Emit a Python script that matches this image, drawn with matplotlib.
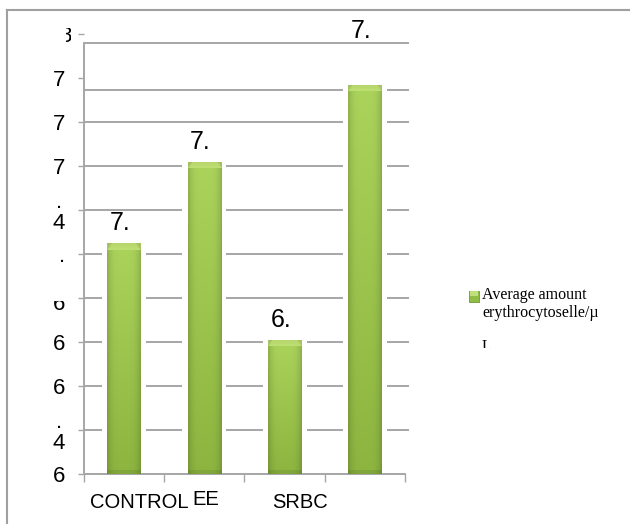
import numpy as np
import matplotlib
matplotlib.use("Agg")
import matplotlib.pyplot as plt
from matplotlib import font_manager
from matplotlib.transforms import Bbox, offset_copy
from matplotlib.lines import Line2D
from matplotlib.patches import Rectangle

# ---- data -------------------------------------------------------------
categories = ["CONTROL", "EE", "SRBC", ""]
values = [7.05, 7.42, 6.61, 7.77]
y_ticks = [6.0, 6.2, 6.4, 6.6, 6.8, 7.0, 7.2, 7.4, 7.6, 7.8, 8.0]
y_tick_labels = ["6", ".\n4", "6", "6", "", ".", ".\n4", "7", "7", "7", ""]
legend_label = "Average amount\nerythrocytoselle/\u00b5"
legend_tail = "L"

# ---- fonts ------------------------------------------------------------
installed = {f.name for f in font_manager.fontManager.ttflist}
SANS = "Liberation Sans Narrow" if "Liberation Sans Narrow" in installed else "Liberation Sans"
SERIF = "Liberation Serif"

W, H, DPI = 630, 524, 100
fig = plt.figure(figsize=(W / DPI, H / DPI), dpi=DPI)
fig.patch.set_facecolor("white")

ax = fig.add_axes([84 / W, 50 / H, 321 / W, 440 / H])
ymin, ymax = 6.0, 8.0
ax.set_xlim(0, 4)
ax.set_ylim(ymin, ymax)
ax.set_facecolor("none")

GRID = "#a6a6a6"

# frame of the whole chart area
fig.add_artist(Line2D([7 / W, 1.0], [1 - 10 / H, 1 - 10 / H], color="#a0a0a0", lw=1.5,
                      transform=fig.transFigure))
fig.add_artist(Line2D([7 / W, 7 / W], [0, 1 - 10 / H], color="#a0a0a0", lw=1.5,
                      transform=fig.transFigure))

# spines
for s in ("top", "right"):
    ax.spines[s].set_visible(False)
ax.spines["left"].set_color(GRID)
ax.spines["bottom"].set_color(GRID)
ax.spines["left"].set_linewidth(1.4)
ax.spines["bottom"].set_linewidth(1.4)
top_line = 7.96
ax.spines["left"].set_bounds(ymin, top_line)

# horizontal gridlines
grid_levels = [6.2, 6.4, 6.6, 6.8, 7.0, 7.2, 7.4, 7.6, 7.745, top_line]
ax.hlines(grid_levels, 0, 4.05, colors=GRID, lw=1.4, zorder=0.5, clip_on=False)

# y ticks
ax.set_yticks(y_ticks)
ax.set_yticklabels(y_tick_labels, fontfamily=SANS, fontsize=16, linespacing=1.05,
                   multialignment="center")
ax.tick_params(axis="y", direction="out", length=4.5, width=1.0, color=GRID, pad=9)

# x ticks at category boundaries, labels drawn as text below
ax.set_xticks([0, 1, 2, 3, 4])
ax.set_xticklabels([])
ax.tick_params(axis="x", direction="out", length=6, width=1.0, color=GRID)

x = np.arange(len(categories)) + 0.5
label_offsets = [(15, 0), (1, 3), (15, 0), (0, 0)]
for xi, name, (dx, dy) in zip(x, categories, label_offsets):
    tr = offset_copy(ax.get_xaxis_transform(), fig=fig, x=dx, y=dy - 19, units="dots")
    ax.text(xi, 0, name, transform=tr, ha="center", va="top", fontfamily=SANS,
            fontsize=14.5, color="black")

# ---- bars -------------------------------------------------------------
bar_w = 0.42
halo = ax.bar(x, np.array(values) - ymin + 0.02, bottom=ymin, width=bar_w + 0.13,
              color="white", zorder=1)

bars = ax.bar(x, np.array(values) - ymin, bottom=ymin, width=bar_w,
              color="#96c346", zorder=2)


def bar_texture(n_rows, n_cols=40, cap=7):
    cols = np.linspace(0, 1, n_cols)
    rows = np.linspace(0, 1, n_rows)
    top = np.array([0.67, 0.83, 0.36])
    bot = np.array([0.55, 0.71, 0.25])
    base = top[None, :] * (1 - rows[:, None]) + bot[None, :] * rows[:, None]
    edge = 1 - 0.16 * np.abs(2 * cols - 1) ** 4
    img = base[:, None, :] * edge[None, :, None]
    # light bevelled cap
    cap_col = np.array([0.75, 0.88, 0.45])
    for r in range(min(cap, n_rows)):
        img[r, :, :] = cap_col * (0.95 + 0.05 * r / cap)
        side = max(1, int(n_cols * 0.12 * (1 - r / cap)) + 1)
        img[r, :side, :] *= 0.9
        img[r, n_cols - side:, :] *= 0.9
    # slightly darker foot
    img[-4:, :, :] *= 0.92
    return np.clip(img, 0, 1)


px_per_unit = 440 / (ymax - ymin)
for b in bars:
    x0, y0 = b.get_x(), b.get_y()
    bw, bh = b.get_width(), b.get_height()
    n_rows = max(int(round(bh * px_per_unit)), 10)
    im = ax.imshow(bar_texture(n_rows), extent=[x0, x0 + bw, y0, y0 + bh],
                   aspect="auto", origin="upper", interpolation="bilinear", zorder=3)
    im.set_clip_path(b)

# value labels above bars
value_gaps = [20, 20, 20, 54]
for b, v, gap in zip(bars, values, value_gaps):
    tr = offset_copy(ax.transData, fig=fig, x=-4, y=gap, units="dots")
    ax.text(b.get_x() + b.get_width() / 2, v, f"{v:.2f}"[:2], transform=tr,
            ha="center", va="center", fontfamily=SANS, fontsize=18, color="black",
            clip_on=False)

ax.set_xlim(0, 4)
ax.set_ylim(ymin, ymax)

# partially hidden tick labels
t8 = fig.text(72 / W, 1 - 36 / H, "8", ha="right", va="center", fontfamily=SANS,
              fontsize=16)
t8.set_clip_box(Bbox.from_extents(66, H - 44, 71, H - 28))
t8.set_clip_on(True)
t6 = fig.text(65 / W, 1 - 305 / H, "6", ha="right", va="center", fontfamily=SANS,
              fontsize=16)
t6.set_clip_box(Bbox.from_extents(40, H - 320, 80, H - 301))
t6.set_clip_on(True)

# ---- legend -----------------------------------------------------------
key = Rectangle((469 / W, 1 - 302 / H), 10 / W, 11 / H, transform=fig.transFigure,
                facecolor="#8fbd45", edgecolor="#6f9a30", lw=0.6)
fig.add_artist(key)
fig.add_artist(Rectangle((470 / W, 1 - 296 / H), 8 / W, 5 / H, transform=fig.transFigure,
                         facecolor="#bfe07a", edgecolor="none"))
fig.text(482 / W, 1 - 287 / H, legend_label, ha="left", va="top", fontfamily=SERIF,
         fontsize=11.5, linespacing=1.2)
tl = fig.text(482 / W, 1 - 339 / H, legend_tail, ha="left", va="top", fontfamily=SERIF,
              fontsize=11.5)
tl.set_clip_box(Bbox.from_extents(470, H - 348, 500, H - 335))
tl.set_clip_on(True)

fig.savefig("out.png", dpi=DPI, facecolor="white")
